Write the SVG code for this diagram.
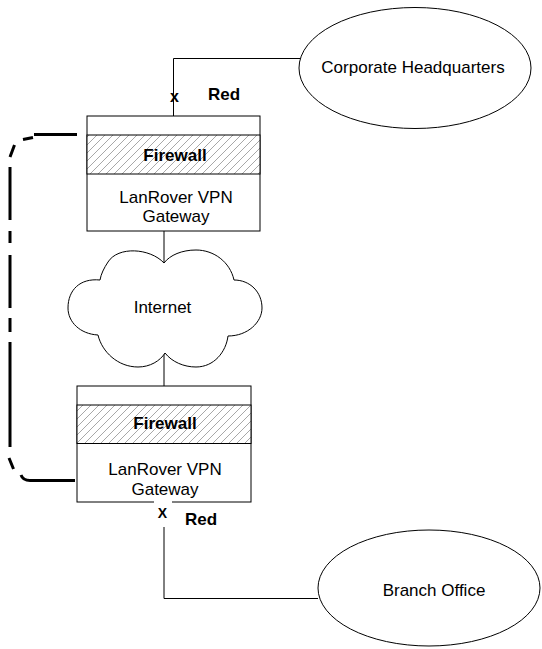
<svg xmlns="http://www.w3.org/2000/svg" width="542" height="649" viewBox="0 0 542 649">
<style>
.shape{fill:#fff;stroke:#000;stroke-width:1}
.hatch{fill:url(#hatch);stroke:#000;stroke-width:1}
.line{fill:none;stroke:#000;stroke-width:1}
.dash{fill:none;stroke:#000;stroke-width:3;stroke-linecap:butt}
.t{font-family:"Liberation Sans",Arial,sans-serif;font-size:17px;fill:#000;text-anchor:middle}
.b{font-weight:bold}
</style>
<defs>
<pattern id="hatch" patternUnits="userSpaceOnUse" width="8" height="8">
<rect width="8" height="8" fill="#fff"/>
<path d="M-2 10 L10 -2 M-2 2 L2 -2 M6 10 L10 6" stroke="#a8a8a8" stroke-width="1"/>
</pattern>
</defs>
<rect width="542" height="649" fill="#fff"/>
<g id="connectors">
<path class="line" d="M173.5 116 V58.5 H300"/>
<path class="line" d="M164 231 V263"/>
<path class="line" d="M164 353 V386"/>
<path class="line" d="M164 527 V598.5 H318"/>
<path class="dash" d="M77 134.5 H34 M33 137.5 L23 139.5 M14.5 145 L10 157 M10 167 V220 M10 231 V243 M10 255 V308 M10 318 V332 M10 342 V447 M9 458 L13.5 469 M21 475 Q23 480.5 30 480.5 H75"/>
</g>
<g id="corporate-hq">
<ellipse class="shape" cx="415" cy="68" rx="116" ry="60.5"/>
<text class="t" x="413" y="72.5">Corporate Headquarters</text>
</g>
<g id="gateway-top">
<rect class="shape" x="87" y="116" width="173" height="115"/>
<rect class="hatch" x="87" y="135" width="173" height="39"/>
<text class="t b" x="175" y="160.5">Firewall</text>
<text class="t" x="176" y="203">LanRover VPN</text>
<text class="t" x="176" y="221.5">Gateway</text>
</g>
<g id="internet">
<path class="shape" d="M164 263 C150 248 118 246 108 262 C104 268 101 274 100 280 C80 278 68 290 68 308 C68 322 80 334 98 335 C102 352 118 367 138 367 C150 367 160 361 165 353 C172 362 184 367 196 367 C214 367 226 352 228 336 C248 336 262 322 262 308 C262 292 250 280 234 280 C230 262 214 250 196 250 C182 250 170 255 164 263 Z"/>
<text class="t" x="162.5" y="313">Internet</text>
</g>
<g id="gateway-bottom">
<rect class="shape" x="77" y="386" width="174" height="116"/>
<rect class="hatch" x="77" y="405" width="174" height="38.5"/>
<text class="t b" x="165" y="429">Firewall</text>
<text class="t" x="165" y="475">LanRover VPN</text>
<text class="t" x="165" y="494.5">Gateway</text>
</g>
<g id="branch-office">
<ellipse class="shape" cx="429" cy="588" rx="111" ry="58"/>
<text class="t" x="434" y="596">Branch Office</text>
</g>
<g id="labels">
<text class="t b" x="174.5" y="102" style="font-size:16px">x</text>
<text class="t b" x="224" y="100">Red</text>
<rect x="154" y="500" width="18" height="21" fill="#fff"/>
<text class="t b" x="162.5" y="518" style="font-size:14px">X</text>
<text class="t b" x="201" y="525">Red</text>
</g>
</svg>
